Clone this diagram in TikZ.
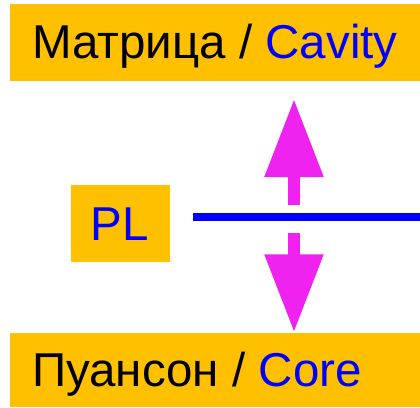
\documentclass[tikz,border=0pt]{standalone}
\usepackage{fontspec}
\setmainfont{Liberation Sans}
\usetikzlibrary{arrows.meta}
\definecolor{boxorange}{RGB}{255,192,0}
\definecolor{pureblue}{RGB}{0,0,255}
\definecolor{arrowmag}{RGB}{240,34,240}
\tikzset{
  panel/.style={fill=boxorange, draw=none, inner sep=0pt},
  bigtext/.style={anchor=base west, inner sep=0pt, font=\fontsize{47.5}{50}\selectfont},
  movearrow/.style={draw=arrowmag, line width=12pt, -{Triangle[width=56pt,length=78pt]}, arrowmag}
}
\begin{document}
\begin{tikzpicture}[x=1pt,y=-1pt]
\useasboundingbox (0,0) rectangle (420,407);
% top panel
\node[panel, minimum width=410pt, minimum height=77pt] (cavity) at (215,42.5) {};
\node[bigtext] (cavitytext) at (32,58) {Матрица / \textcolor{pureblue}{Cavity}};
% bottom panel
\node[panel, minimum width=410pt, minimum height=74pt] (core) at (215,370) {};
\node[bigtext] (coretext) at (32,386.5) {Пуансон / \textcolor{pureblue}{Core}};
% PL box
\node[panel, minimum width=99pt, minimum height=77pt] (pl) at (120.5,223.5) {};
\node[bigtext, anchor=base] (pltext) at (119.5,240) {\textcolor{pureblue}{PL}};
% parting line
\coordinate (lineL) at (193,217);
\coordinate (lineR) at (420,217);
\draw[pureblue, line width=7.5pt] (lineL) -- (lineR);
% arrows
\coordinate (upS) at (294,204.7);
\coordinate (upE) at (294,99);
\coordinate (dnS) at (294,232.7);
\coordinate (dnE) at (294,332.3);
\draw[movearrow] (upS) -- (upE);
\draw[movearrow] (dnS) -- (dnE);
\end{tikzpicture}
\end{document}
